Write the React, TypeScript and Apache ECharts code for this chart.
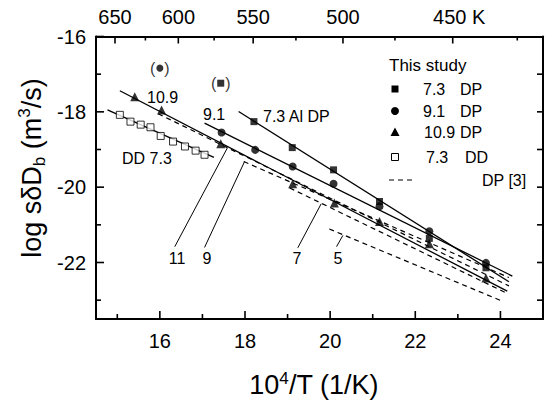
import React, { useEffect, useRef } from "react";
import * as echarts from "echarts";

const FONT = '"Liberation Sans", Arial, Helvetica, sans-serif';

// axes
const xMajorTicks = [16, 18, 20, 22, 24];
const xMinorTicks = [15, 17, 19, 21, 23];
const yMajorTicks = [-16, -18, -20, -22];
const yMinorTicks = [-17, -19, -21, -23];
const yRightTicks = [-17, -18, -19, -20, -21, -22, -23];
const topTempsMajor = [650, 600, 550, 500, 450];
const topTempsMinor = [625, 575, 525, 475, 425];

// This study: 7.3 DP (filled squares)
const dp73X = [18.21, 19.11, 20.08, 21.16, 22.33, 23.66];
const dp73Y = [-18.26, -18.95, -19.54, -20.38, -21.36, -22.14];
// 9.1 DP (filled circles)
const dp91X = [17.45, 18.24, 19.12, 20.08, 21.16, 22.33, 23.66];
const dp91Y = [-18.55, -19.01, -19.45, -19.91, -20.51, -21.17, -22.01];
// 10.9 DP (filled triangles)
const dp109X = [15.41, 16.04, 17.43, 19.12, 20.1, 21.16, 22.33, 23.66];
const dp109Y = [-17.6, -17.95, -18.85, -19.91, -20.42, -20.91, -21.5, -22.41];
// 7.3 DD (open squares)
const dd73X = [15.06, 15.31, 15.55, 15.78, 16.02, 16.31, 16.59, 16.84, 17.05];
const dd73Y = [-18.08, -18.26, -18.34, -18.41, -18.64, -18.79, -18.92, -19.03, -19.14];
// excluded points (in parentheses)
const exCircleX = [16.0];
const exCircleY = [-16.84];
const exSquareX = [17.43];
const exSquareY = [-17.24];

// fitted solid lines [x0, y0, x1, y1]
const fit73 = [17.85, -17.99, 24.2, -22.51];
const fit91 = [17.05, -18.3, 24.28, -22.36];
const fit109 = [15.06, -17.44, 24.16, -22.76];
const fitDD = [14.77, -17.95, 17.27, -19.21];

// DP [3] dashed lines (labelled 11, 9, 7, 5)
const ref11 = [15.96, -18.05, 24.2, -22.62];
const ref9 = [17.97, -19.32, 24.2, -22.4];
const ref7 = [19.05, -20.02, 24.12, -22.8];
const ref5 = [19.98, -21.11, 24.05, -23.03];

// leader lines for labels 11, 9, 7, 5
const lead11 = [16.35, -21.58, 17.59, -18.95];
const lead9 = [17.05, -21.6, 17.99, -19.32];
const lead7 = [19.24, -21.61, 19.79, -20.44];
const lead5 = [20.15, -21.58, 20.3, -21.28];

const pts = (xs: number[], ys: number[]) => xs.map((x, i) => [x, ys[i]]);
const seg = (s: number[]) => [[s[0], s[1]], [s[2], s[3]]];

export default function App() {
  const ref = useRef<HTMLDivElement>(null);
  useEffect(() => {
    if (!ref.current) return;
    const chart = echarts.init(ref.current, null, { renderer: "svg" });

    const lineSeries = (s: number[], dashed: boolean, width: number) => ({
      type: "line",
      data: seg(s),
      showSymbol: false,
      symbol: "none",
      silent: true,
      lineStyle: { color: "#000", width, type: dashed ? [5, 4] : "solid" },
      z: 2,
    });

    const scatter = (xs: number[], ys: number[], symbol: string, size: number, open = false) => ({
      type: "scatter",
      data: pts(xs, ys),
      symbol,
      symbolSize: size,
      silent: true,
      itemStyle: open
        ? { color: "#fff", borderColor: "#000", borderWidth: 1 }
        : { color: "#000" },
      z: 3,
    });

    const axisText = { color: "#000", fontFamily: FONT, fontSize: 20 };

    const txt = (x: number, y: number, text: string, size = 16, align = "left") => ({
      type: "text",
      x,
      y,
      silent: true,
      style: { text, fontSize: size, fontFamily: FONT, fill: "#000", align, verticalAlign: "middle" },
    });

    const baseAxis = {
      type: "value",
      splitLine: { show: false },
      axisTick: { show: false },
      axisLine: { show: true, lineStyle: { color: "#000", width: 2 } },
    };

    const graphics: any[] = [
      // axis names
      {
        type: "text",
        x: 314,
        y: 385,
        silent: true,
        style: {
          text: "{a|10}{s|4}{a|/T (1/K)}",
          align: "center",
          verticalAlign: "middle",
          fill: "#000",
          rich: {
            a: { fontSize: 27, fontFamily: FONT, lineHeight: 30, fill: "#000" },
            s: { fontSize: 17, fontFamily: FONT, lineHeight: 17, verticalAlign: "top", fill: "#000" },
          },
        },
      },
      {
        type: "text",
        x: 32,
        y: 168,
        rotation: Math.PI / 2,
        silent: true,
        style: {
          text: "{a|log s\u03B4D}{b|b}{a| (m}{s|3}{a|/s)}",
          align: "center",
          verticalAlign: "middle",
          fill: "#000",
          rich: {
            a: { fontSize: 27, fontFamily: FONT, lineHeight: 32, fill: "#000" },
            s: { fontSize: 17, fontFamily: FONT, lineHeight: 17, verticalAlign: "top", fill: "#000" },
            b: { fontSize: 17, fontFamily: FONT, lineHeight: 15, verticalAlign: "bottom", fill: "#000" },
          },
        },
      },
      // in-plot annotations
      txt(147, 97, "10.9"),
      txt(203, 114, "9.1"),
      txt(263, 116.5, "7.3 Al DP"),
      txt(122, 158, "DD 7.3"),
      txt(177, 258, "11", 16, "center"),
      txt(207, 258, "9", 16, "center"),
      txt(297, 258, "7", 16, "center"),
      txt(338, 258, "5", 16, "center"),
      // legend
      txt(389, 65.5, "This study", 17),
      { type: "rect", silent: true, shape: { x: 391.5, y: 85.5, width: 7, height: 7 }, style: { fill: "#000" } },
      txt(423, 89, "7.3"),
      txt(460, 89, "DP"),
      { type: "circle", silent: true, shape: { cx: 395, cy: 111, r: 4 }, style: { fill: "#000" } },
      txt(423, 111, "9.1"),
      txt(460, 111, "DP"),
      {
        type: "polygon",
        silent: true,
        shape: { points: [[395, 127.5], [390.5, 136], [399.5, 136]] },
        style: { fill: "#000" },
      },
      txt(424, 132.5, "10.9"),
      txt(460, 132.5, "DP"),
      { type: "rect", silent: true, shape: { x: 391.5, y: 153.5, width: 7, height: 7 }, style: { fill: "#fff", stroke: "#000", lineWidth: 1 } },
      txt(426, 157, "7.3"),
      txt(465, 157, "DD"),
      {
        type: "line",
        silent: true,
        shape: { x1: 389, y1: 180, x2: 416, y2: 180 },
        style: { stroke: "#000", lineWidth: 1.2, lineDash: [5, 4] },
      },
      txt(482, 180, "DP [3]"),
    ];

    const option: any = {
      animation: false,
      backgroundColor: "#fff",
      grid: { left: 96, right: 3, top: 36.5, bottom: 83, containLabel: false, outerBoundsMode: "none" },
      xAxis: [
        {
          ...baseAxis,
          position: "bottom",
          min: 14.5,
          max: 25,
          axisLabel: { ...axisText, margin: 12, customValues: xMajorTicks, formatter: (v: number) => String(v) },
        },
        {
          ...baseAxis,
          position: "top",
          min: 15,
          max: 24.05,
          axisLabel: {
            ...axisText,
            margin: 10,
            customValues: topTempsMajor.map((t) => 10000 / t),
            formatter: (v: number) => {
              const t = Math.round(10000 / v);
              return t === topTempsMajor[topTempsMajor.length - 1] ? "{k|" + t + " K}" : String(t);
            },
            rich: { k: { ...axisText, padding: [0, 0, 0, 13] } },
          },
        },
      ],
      yAxis: [
        {
          ...baseAxis,
          position: "left",
          min: -23.5,
          max: -16,
          axisLabel: { ...axisText, margin: 10, customValues: yMajorTicks, formatter: (v: number) => String(v) },
        },
        {
          ...baseAxis,
          position: "right",
          min: -23.5,
          max: -16,
          axisLabel: { show: false },
        },
      ],
      series: [
        lineSeries(fit73, false, 1.3),
        lineSeries(fit91, false, 1.3),
        lineSeries(fit109, false, 1.3),
        lineSeries(fitDD, false, 1.3),
        lineSeries(ref11, true, 1.2),
        lineSeries(ref9, true, 1.2),
        lineSeries(ref7, true, 1.2),
        lineSeries(ref5, true, 1.2),
        lineSeries(lead11, false, 1),
        lineSeries(lead9, false, 1),
        lineSeries(lead7, false, 1),
        lineSeries(lead5, false, 1),
        scatter(dp73X, dp73Y, "rect", 7),
        scatter(dp91X, dp91Y, "circle", 8),
        scatter(dp109X, dp109Y, "triangle", 9),
        scatter(dd73X, dd73Y, "rect", 7, true),
        {
          ...scatter(exCircleX, exCircleY, "circle", 7),
          label: { show: true, position: "inside", formatter: "(  )", color: "#000", fontFamily: FONT, fontSize: 16 },
        },
        {
          ...scatter(exSquareX, exSquareY, "rect", 7),
          label: { show: true, position: "inside", formatter: "(  )", color: "#000", fontFamily: FONT, fontSize: 16 },
        },
      ],
    };

    chart.setOption(option);

    // axis ticks (inside), placed through the axes' own scales
    const px = (axis: number, v: number) => chart.convertToPixel({ xAxisIndex: axis }, v) as number;
    const py = (axis: number, v: number) => chart.convertToPixel({ yAxisIndex: axis }, v) as number;
    const left = px(0, 14.5);
    const right = px(0, 25);
    const top = py(0, -16);
    const bottom = py(0, -23.5);
    const tick = (x1: number, y1: number, x2: number, y2: number) => ({
      type: "line",
      silent: true,
      z: 10,
      shape: { x1, y1, x2, y2 },
      style: { stroke: "#000", lineWidth: 1.6 },
    });
    const ticks: any[] = [];
    xMajorTicks.forEach((v) => { const x = px(0, v); ticks.push(tick(x, bottom, x, bottom - 8)); });
    xMinorTicks.forEach((v) => { const x = px(0, v); ticks.push(tick(x, bottom, x, bottom - 5)); });
    topTempsMajor.forEach((t) => { const x = px(1, 10000 / t); ticks.push(tick(x, top, x, top + 7)); });
    topTempsMinor.forEach((t) => { const x = px(1, 10000 / t); ticks.push(tick(x, top, x, top + 4)); });
    yMajorTicks.forEach((v) => { const y = py(0, v); ticks.push(tick(left, y, left + 8, y)); });
    yMinorTicks.forEach((v) => { const y = py(0, v); ticks.push(tick(left, y, left + 5, y)); });
    yRightTicks.forEach((v) => { const y = py(1, v); ticks.push(tick(right, y, right - 6, y)); });

    chart.setOption({ graphic: [...ticks, ...graphics] });

    return () => chart.dispose();
  }, []);

  return (
    <div
      ref={ref}
      style={{ position: "fixed", left: 0, top: 0, width: 546, height: 402, background: "#fff" }}
    />
  );
}
